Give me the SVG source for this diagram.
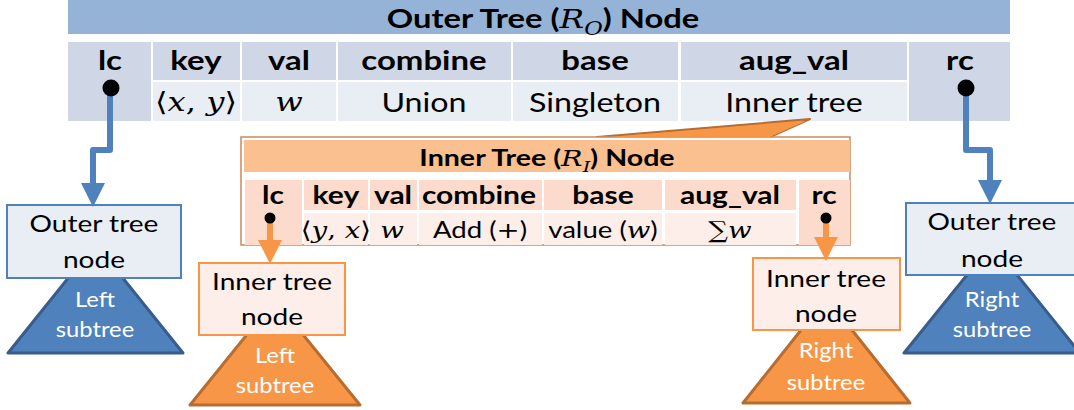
<svg xmlns="http://www.w3.org/2000/svg" width="1074" height="410" viewBox="0 0 1074 410">
<defs>
<style>
.t{font-family:Lato,"Open Sans","Liberation Sans",sans-serif;fill:#000;text-anchor:middle;transform-box:fill-box;transform-origin:center}
.ti{font-weight:bold;font-size:26px;transform:scaleX(1.26)}
.hb{font-weight:bold;font-size:27px;transform:scaleX(1.22)}
.v{font-size:26px;transform:scaleX(1.24)}
.iti{font-weight:bold;font-size:22px;transform:scaleX(1.3)}
.ihb{font-weight:bold;font-size:24px;transform:scaleX(1.25)}
.iv{font-size:23px;transform:scaleX(1.2)}
.m{font-family:"DejaVu Serif","Liberation Serif",serif;font-style:italic;font-weight:normal}
.s{font-family:"DejaVu Serif","Liberation Serif",serif}
.nl{font-size:24px;transform:scaleX(1.17)}
.st{font-size:22px;fill:#fff;transform:scaleX(1.08)}
.oh{fill:#CFD7E6}
.ov{fill:#E9EDF4}
.ih{fill:#FCDBCC}
.iv2{fill:#FDEEE9}
.bl{stroke:#4F81BD;stroke-width:6;fill:none;stroke-linejoin:round}
.or{stroke:#F79646;stroke-width:6;fill:none}
</style>
<marker id="ab" markerUnits="userSpaceOnUse" markerWidth="24" markerHeight="24" viewBox="0 0 22 22" refX="0" refY="11" orient="auto">
<path d="M0,0 L22,11 L0,22 z" fill="#4F81BD"/>
</marker>
<marker id="ao" markerUnits="userSpaceOnUse" markerWidth="24" markerHeight="24" viewBox="0 0 22 22" refX="0" refY="11" orient="auto">
<path d="M0,0 L22,11 L0,22 z" fill="#F79646"/>
</marker>
</defs>
<rect width="1074" height="410" fill="#fff"/>

<g id="outer-node">
<rect x="68" y="0" width="942" height="34" fill="#95B3D7"/>
<text class="t ti" x="543" y="28">Outer Tree (<tspan class="m">R</tspan><tspan class="m" font-size="18" dy="7">O</tspan><tspan dy="-7">) Node</tspan></text>
<rect class="oh" x="68" y="42" width="83" height="79"/>
<rect class="oh" x="153" y="42" width="87" height="38"/>
<rect class="oh" x="242" y="42" width="94" height="38"/>
<rect class="oh" x="338" y="42" width="173" height="38"/>
<rect class="oh" x="513" y="42" width="165" height="38"/>
<rect class="oh" x="681" y="42" width="226" height="38"/>
<rect class="oh" x="909" y="42" width="101" height="79"/>
<rect class="ov" x="153" y="82" width="87" height="39"/>
<rect class="ov" x="242" y="82" width="94" height="39"/>
<rect class="ov" x="338" y="82" width="173" height="39"/>
<rect class="ov" x="513" y="82" width="165" height="39"/>
<rect class="ov" x="681" y="82" width="226" height="39"/>
<text class="t hb" x="110" y="70">lc</text>
<text class="t hb" x="196" y="70">key</text>
<text class="t hb" x="289" y="70">val</text>
<text class="t hb" x="424" y="70">combine</text>
<text class="t hb" x="595" y="70">base</text>
<text class="t hb" x="794" y="70">aug_val</text>
<text class="t hb" x="960" y="70">rc</text>
<text class="t v" x="196" y="111"><tspan class="s">⟨</tspan><tspan class="m">x</tspan><tspan class="s">, </tspan><tspan class="m">y</tspan><tspan class="s">⟩</tspan></text>
<text class="t v m" x="289" y="111">w</text>
<text class="t v" x="424" y="112">Union</text>
<text class="t v" x="595" y="112">Singleton</text>
<text class="t v" x="794" y="112">Inner tree</text>
</g>

<g id="inner-node">
<polygon points="597,137 770,137 810,119" fill="#F79646" stroke="#B66D31" stroke-width="2" stroke-linejoin="round"/>
<rect x="241" y="137" width="609" height="108" fill="#fff" stroke="#C98A5A" stroke-width="1.5"/>
<polygon points="600,137.8 768,137.8 806,121" fill="#F79646"/>
<rect x="244" y="140" width="606" height="32" fill="#FAC090"/>
<text class="t iti" x="547" y="166">Inner Tree (<tspan class="m">R</tspan><tspan class="m" font-size="15" dy="6">I</tspan><tspan dy="-6">) Node</tspan></text>
<rect class="ih" x="245" y="180" width="57" height="65"/>
<rect class="ih" x="304" y="180" width="64" height="30"/>
<rect class="ih" x="370" y="180" width="47" height="30"/>
<rect class="ih" x="419" y="180" width="123" height="30"/>
<rect class="ih" x="544" y="180" width="118" height="30"/>
<rect class="ih" x="665" y="180" width="131" height="30"/>
<rect class="ih" x="799" y="180" width="51" height="65"/>
<rect class="iv2" x="304" y="213" width="64" height="32"/>
<rect class="iv2" x="370" y="213" width="47" height="32"/>
<rect class="iv2" x="419" y="213" width="123" height="32"/>
<rect class="iv2" x="544" y="213" width="118" height="32"/>
<rect class="iv2" x="665" y="213" width="131" height="32"/>
<text class="t ihb" x="273" y="204">lc</text>
<text class="t ihb" x="336" y="204">key</text>
<text class="t ihb" x="393" y="204">val</text>
<text class="t ihb" x="479" y="204">combine</text>
<text class="t ihb" x="603" y="204">base</text>
<text class="t ihb" x="730" y="204">aug_val</text>
<text class="t ihb" x="824" y="204">rc</text>
<text class="t iv" x="336" y="238"><tspan class="s">⟨</tspan><tspan class="m">y</tspan><tspan class="s">, </tspan><tspan class="m">x</tspan><tspan class="s">⟩</tspan></text>
<text class="t iv m" x="392" y="238">w</text>
<text class="t iv" x="480" y="238">Add (<tspan class="s">+</tspan>)</text>
<text class="t iv" x="603" y="238">value (<tspan class="m">w</tspan>)</text>
<text class="t iv" x="730" y="238"><tspan class="s">∑</tspan><tspan class="m">w</tspan></text>
</g>

<g id="outer-left">
<polygon points="8,353 183,353 95.5,244" fill="#4F81BD" stroke="#385D8A" stroke-width="3" stroke-linejoin="round"/>
<rect x="7" y="205" width="174" height="73" fill="#E9EDF4" stroke="#4F81BD" stroke-width="2"/>
<text class="t nl" x="94" y="232">Outer tree</text>
<text class="t nl" x="94" y="268">node</text>
<text class="t st" x="95" y="307">Left</text>
<text class="t st" x="95" y="337">subtree</text>
</g>

<g id="outer-right">
<polygon points="904,353 1080,353 992,244" fill="#4F81BD" stroke="#385D8A" stroke-width="3" stroke-linejoin="round"/>
<rect x="906" y="203" width="175" height="72" fill="#E9EDF4" stroke="#4F81BD" stroke-width="2"/>
<text class="t nl" x="992" y="230">Outer tree</text>
<text class="t nl" x="992" y="267">node</text>
<text class="t st" x="992" y="307">Right</text>
<text class="t st" x="992" y="337">subtree</text>
</g>

<g id="inner-left">
<polygon points="190,405 360,405 275,300" fill="#F79646" stroke="#B66D31" stroke-width="3" stroke-linejoin="round"/>
<rect x="199" y="263" width="146" height="72" fill="#FDEEE9" stroke="#F79646" stroke-width="2"/>
<text class="t nl" x="272" y="290">Inner tree</text>
<text class="t nl" x="272" y="325">node</text>
<text class="t st" x="275" y="363">Left</text>
<text class="t st" x="275" y="393">subtree</text>
</g>

<g id="inner-right">
<polygon points="743,403 910,403 826.5,298" fill="#F79646" stroke="#B66D31" stroke-width="3" stroke-linejoin="round"/>
<rect x="753" y="258" width="147" height="72" fill="#FDEEE9" stroke="#F79646" stroke-width="2"/>
<text class="t nl" x="826" y="287">Inner tree</text>
<text class="t nl" x="826" y="322">node</text>
<text class="t st" x="826" y="358">Right</text>
<text class="t st" x="826" y="390">subtree</text>
</g>

<g id="connectors">
<path class="bl" d="M110,94 V150 H93 V183" marker-end="url(#ab)"/>
<path class="bl" d="M966,94 V150 H990 V180" marker-end="url(#ab)"/>
<path class="or" d="M270,222 V240" marker-end="url(#ao)"/>
<path class="or" d="M826,222 V237" marker-end="url(#ao)"/>
<circle cx="111" cy="88" r="8.5" fill="#000"/>
<circle cx="966" cy="88" r="8.5" fill="#000"/>
<circle cx="270" cy="218" r="5.5" fill="#000"/>
<circle cx="826" cy="218" r="5.5" fill="#000"/>
</g>
</svg>
